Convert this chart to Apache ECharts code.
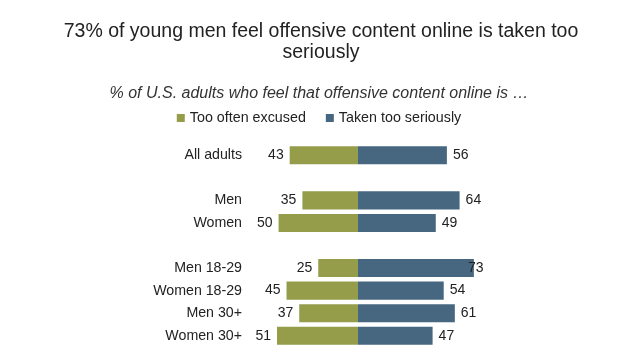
<!DOCTYPE html>
<html><head><meta charset="utf-8">
<script src="https://cdn.jsdelivr.net/npm/echarts@6/dist/echarts.min.js"></script>
<style>html,body{margin:0;padding:0;background:#fff}#c{width:638px;height:359px}</style>
</head><body><div id="c"></div>
<script>
const categories = ['All adults', '', 'Men', 'Women', '', 'Men 18-29', 'Women 18-29', 'Men 30+', 'Women 30+'];
const tooOftenExcused = [43, null, 35, 50, null, 25, 45, 37, 51];
const takenTooSeriously = [56, null, 64, 49, null, 73, 54, 61, 47];
const seriesNames = ['Too often excused', 'Taken too seriously'];

const GREEN = '#959D4B', BLUE = '#46677F';
const chart = echarts.init(document.getElementById('c'));
chart.setOption({
  animation: false,
  title: [{
    text: '73% of young men feel offensive content online is taken too\nseriously',
    left: 316, top: 16, textAlign: 'center',
    textStyle: { fontFamily: 'Liberation Sans', fontSize: 19.5, fontWeight: 'normal', color: '#222', lineHeight: 21 }
  }, {
    text: '% of U.S. adults who feel that offensive content online is …',
    left: 'center', top: 81,
    textStyle: { fontFamily: 'Liberation Sans', fontSize: 16, fontStyle: 'italic', fontWeight: 'normal', color: '#333' }
  }],
  legend: {
    top: 106, left: 'center', itemWidth: 8, itemHeight: 8, itemGap: 20,
    icon: 'rect',
    textStyle: { fontFamily: 'Liberation Sans', fontSize: 14.3, color: '#222' },
    data: seriesNames
  },
  grid: { left: 250, width: 235, top: 144, bottom: 12 },
  xAxis: { type: 'value', min: -68, max: 80, show: false },
  yAxis: {
    type: 'category', data: categories, inverse: true,
    axisLine: { show: false }, axisTick: { show: false },
    axisLabel: { margin: 8, fontFamily: 'Liberation Sans', fontSize: 14.2, color: '#222' }
  },
  series: [{
    name: seriesNames[0], type: 'bar', stack: 'a', barCategoryGap: '20%',
    itemStyle: { color: GREEN },
    data: tooOftenExcused.map(v => v == null ? null : -v),
    label: { show: true, position: 'left', distance: 6, fontFamily: 'Liberation Sans', fontSize: 14, color: '#222',
      formatter: p => Math.abs(p.value) }
  }, {
    name: seriesNames[1], type: 'bar', stack: 'a', barCategoryGap: '20%',
    itemStyle: { color: BLUE },
    data: takenTooSeriously.map(v => v == null ? null : (v === 73 ? { value: v, label: { offset: [-12, 0] } } : v)),
    label: { show: true, position: 'right', distance: 6, fontFamily: 'Liberation Sans', fontSize: 14, color: '#222' }
  }]
});
</script></body></html>
